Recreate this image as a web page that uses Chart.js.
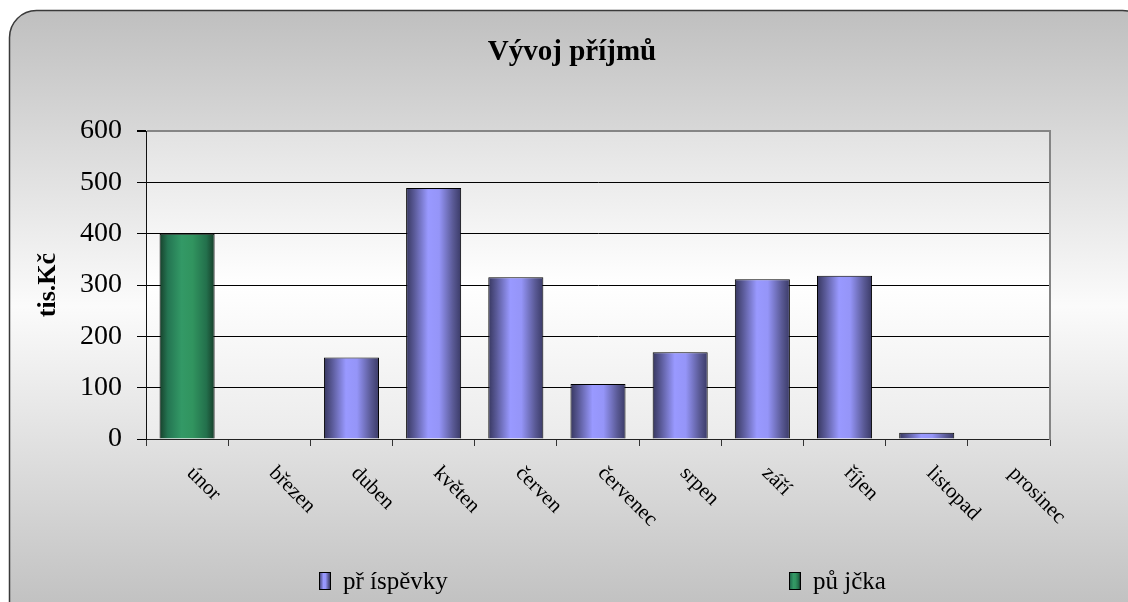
<!DOCTYPE html>
<html>
<head>
<meta charset="utf-8">
<script src="https://cdn.jsdelivr.net/npm/chart.js@4/dist/chart.umd.min.js"></script>
<style>
  html, body { margin: 0; padding: 0; background: #fff; }
  #wrap { width: 1128px; height: 602px; }
</style>
</head>
<body>
<div id="wrap"><canvas id="chart" width="1128" height="602"></canvas></div>
<script>
const months = ['únor', 'březen', 'duben', 'květen', 'červen', 'červenec', 'srpen', 'září', 'říjen', 'listopad', 'prosinec'];
const prispevky = [null, 0, 159, 489, 315, 107, 169, 311, 318, 12, 0];
const pujcka = [400, null, null, null, null, null, null, null, null, null, null];
const yTicks = [0, 100, 200, 300, 400, 500, 600];

const SERIF = "'Liberation Serif', 'Times New Roman', serif";
const BAR_PCT = 0.67;

const blueStops = [[0, '#37375f'], [0.15, '#5a5a98'], [0.4, '#9999ff'], [0.6, '#9595f8'], [0.85, '#5a5a96'], [1, '#3a3a66']];
const greenStops = [[0, '#17402b'], [0.15, '#247552'], [0.4, '#339966'], [0.6, '#31945f'], [0.85, '#23704c'], [1, '#163d29']];

// horizontal shading across each bar, taken from the x scale
const barFill = (stops) => (ctx) => {
  const chart = ctx.chart;
  const xs = chart.scales.x;
  if (!chart.chartArea || !xs || ctx.type !== 'data') return stops[2][1];
  const cx = xs.getPixelForValue(ctx.dataIndex);
  const half = xs.width / months.length * BAR_PCT / 2;
  const g = chart.ctx.createLinearGradient(cx - half, 0, cx + half, 0);
  stops.forEach(([o, c]) => g.addColorStop(o, c));
  return g;
};

const backdrop = {
  id: 'backdrop',
  beforeDraw(chart) {
    const { ctx, chartArea: a } = chart;
    ctx.save();
    // outer rounded panel
    const g = ctx.createLinearGradient(0, 10, 0, 602);
    g.addColorStop(0, '#bfbfbf');
    g.addColorStop(0.5, '#fbfbfb');
    g.addColorStop(1, '#c2c2c2');
    ctx.beginPath();
    ctx.roundRect(9.5, 10.5, 1140, 640, 27);
    ctx.fillStyle = g;
    ctx.fill();
    ctx.lineWidth = 1.5;
    ctx.strokeStyle = '#3a3a3a';
    ctx.stroke();
    // plot area
    const p = ctx.createLinearGradient(0, a.top, 0, a.bottom);
    p.addColorStop(0, '#e2e2e2');
    p.addColorStop(0.5, '#ffffff');
    p.addColorStop(1, '#ebebeb');
    ctx.fillStyle = p;
    ctx.fillRect(a.left, a.top, a.right - a.left, a.bottom - a.top);
    ctx.restore();
  },
  afterDraw(chart) {
    const { ctx, chartArea: a } = chart;
    const xs = chart.scales.x;
    ctx.save();
    // rotated month labels
    ctx.font = '21px ' + SERIF;
    ctx.fillStyle = '#000';
    ctx.textAlign = 'left';
    ctx.textBaseline = 'alphabetic';
    months.forEach((m, i) => {
      const cx = xs.getPixelForValue(i);
      ctx.save();
      ctx.translate(cx - 1, a.bottom + 35);
      ctx.rotate(Math.PI / 4);
      ctx.fillText(m, 0, 0);
      ctx.restore();
    });
    // legend
    const items = [
      { ds: chart.data.datasets[0], stops: blueStops, x: 319 },
      { ds: chart.data.datasets[1], stops: greenStops, x: 789 }
    ];
    ctx.font = '25px ' + SERIF;
    items.forEach(it => {
      const g = ctx.createLinearGradient(it.x, 0, it.x + 11, 0);
      it.stops.forEach(([o, c]) => g.addColorStop(o, c));
      ctx.fillStyle = g;
      ctx.fillRect(it.x, 572, 11, 17);
      ctx.strokeStyle = '#000';
      ctx.lineWidth = 1;
      ctx.strokeRect(it.x + 0.5, 572.5, 11, 17);
      ctx.fillStyle = '#000';
      ctx.fillText(it.ds.label, it.x + 24, 589);
    });
    ctx.restore();
  }
};

new Chart(document.getElementById('chart'), {
  type: 'bar',
  data: {
    labels: months,
    datasets: [
      {
        label: 'př íspěvky',
        data: prispevky,
        backgroundColor: barFill(blueStops),
        borderColor: '#000',
        borderWidth: 1,
        barPercentage: BAR_PCT,
        categoryPercentage: 1
      },
      {
        label: 'pů jčka',
        data: pujcka,
        backgroundColor: barFill(greenStops),
        borderColor: '#000',
        borderWidth: 1,
        barPercentage: BAR_PCT,
        categoryPercentage: 1
      }
    ]
  },
  options: {
    responsive: false,
    animation: false,
    devicePixelRatio: 1,
    layout: {
      padding: { left: 16, right: 0, top: 0, bottom: 156 }
    },
    scales: {
      x: {
        stacked: true,
        offset: true,
        grid: {
          offset: true,
          drawOnChartArea: false,
          tickLength: 7,
          color: '#333'
        },
        border: { color: '#222', width: 1 },
        ticks: { display: false }
      },
      y: {
        stacked: true,
        min: 0,
        max: 600,
        afterBuildTicks: (s) => { s.ticks = yTicks.map(v => ({ value: v })); },
        afterFit: (s) => { s.width = 130; },
        grid: {
          color: (c) => c.tick && c.tick.value === 600 ? '#858585' : '#000',
          lineWidth: (c) => c.tick && c.tick.value === 600 ? 2 : 1,
          tickColor: '#000',
          tickLength: 9
        },
        border: { color: '#111', width: 1 },
        ticks: {
          color: '#000',
          padding: 15,
          font: { family: SERIF, size: 28 }
        },
        title: {
          display: true,
          text: 'tis.Kč',
          color: '#000',
          padding: { top: 17, bottom: 0 },
          font: { family: SERIF, size: 26, weight: 'bold' }
        }
      },
      y2: {
        type: 'linear',
        position: 'right',
        display: true,
        grid: { display: false },
        ticks: { display: false },
        border: { display: true, color: '#858585', width: 2 },
        afterFit: (s) => { s.width = 78; }
      }
    },
    plugins: {
      legend: { display: false },
      tooltip: { enabled: false },
      title: {
        display: true,
        text: 'Vývoj příjmů',
        color: '#000',
        padding: { top: 35, bottom: 61.2 },
        font: { family: SERIF, size: 29, weight: 'bold' }
      }
    }
  },
  plugins: [backdrop]
});
</script>
</body>
</html>
